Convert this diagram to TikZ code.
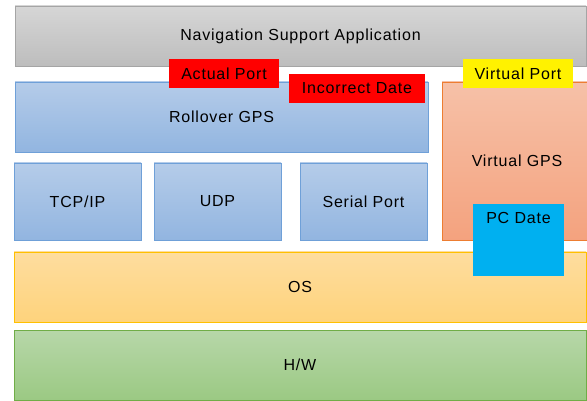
\documentclass[tikz,border=0pt]{standalone}
\usepackage{fontspec}
\setmainfont{Liberation Sans}[LetterSpace=5]

\definecolor{navtop}{HTML}{D6D6D6}
\definecolor{navbot}{HTML}{BDBDBD}
\definecolor{navline}{HTML}{A5A5A5}
\definecolor{bluetop}{HTML}{B5CCE9}
\definecolor{bluebot}{HTML}{92B5E0}
\definecolor{blueline}{HTML}{6FA0D8}
\definecolor{orangetop}{HTML}{F6C1A8}
\definecolor{orangebot}{HTML}{F4A27E}
\definecolor{orangeline}{HTML}{ED7D31}
\definecolor{ostop}{HTML}{FEDD9F}
\definecolor{osbot}{HTML}{FED37C}
\definecolor{osline}{HTML}{FFC000}
\definecolor{hwtop}{HTML}{B7D7A9}
\definecolor{hwbot}{HTML}{9BC983}
\definecolor{hwline}{HTML}{70AD47}
\definecolor{pcblue}{HTML}{00B0F0}

\tikzset{
  layer/.style={rectangle, draw, line width=0.8pt, inner sep=0pt, outer sep=0pt,
    font=\fontsize{16}{18}\selectfont},
  graylayer/.style={layer, draw=navline, top color=navtop, bottom color=navbot},
  bluelayer/.style={layer, draw=blueline, top color=bluetop, bottom color=bluebot},
  orangelayer/.style={layer, draw=orangeline, top color=orangetop, bottom color=orangebot},
  oslayer/.style={layer, draw=osline, top color=ostop, bottom color=osbot},
  hwlayer/.style={layer, draw=hwline, top color=hwtop, bottom color=hwbot},
  tag/.style={rectangle, inner sep=0pt, minimum height=29pt,
    font=\fontsize{16}{18}\selectfont}
}

\begin{document}
\begin{tikzpicture}[x=1pt,y=-1pt]

        \useasboundingbox (0,0) rectangle (587,401);

        % application layer
        \node[graylayer, minimum width=571, minimum height=60] (nav) at (300.5,36) {Navigation Support Application};

        % gps layer
        \begin{scope}[every node/.style={bluelayer}]
          \node[minimum width=413, minimum height=70] (rollover) at (221.5,117) {Rollover GPS};
          \node[minimum width=127, minimum height=77] (tcpip)  at (77.5,201.5)  {TCP/IP};
          \node[minimum width=127, minimum height=77] (udp)    at (217.5,201.5) {UDP};
          \node[minimum width=127, minimum height=77] (serial) at (363.5,201.5) {Serial Port};
        \end{scope}
        \node[orangelayer, minimum width=150, minimum height=158] (vgps) at (517,161) {Virtual GPS};

        % os and hardware
        \node[oslayer, minimum width=572, minimum height=70] (os) at (300,287) {OS};
        \node[hwlayer, minimum width=572, minimum height=70] (hw) at (300,365) {H/W};

        % notes
        \node[tag, fill=pcblue, minimum width=91, minimum height=72,
              label={[anchor=center, yshift=-14pt, font=\fontsize{16}{18}\selectfont]north:PC Date}] (pcdate) at (518.5,240) {};
        \begin{scope}[every node/.style={tag, fill=red}]
          \node[minimum width=110] (actual)    at (224,73.5) {Actual Port};
          \node[minimum width=136] (incorrect) at (357,88.5) {Incorrect Date};
        \end{scope}
        \node[tag, fill=yellow, minimum width=110] (vport) at (518,73.5) {Virtual Port};

      \end{tikzpicture}
\end{document}
